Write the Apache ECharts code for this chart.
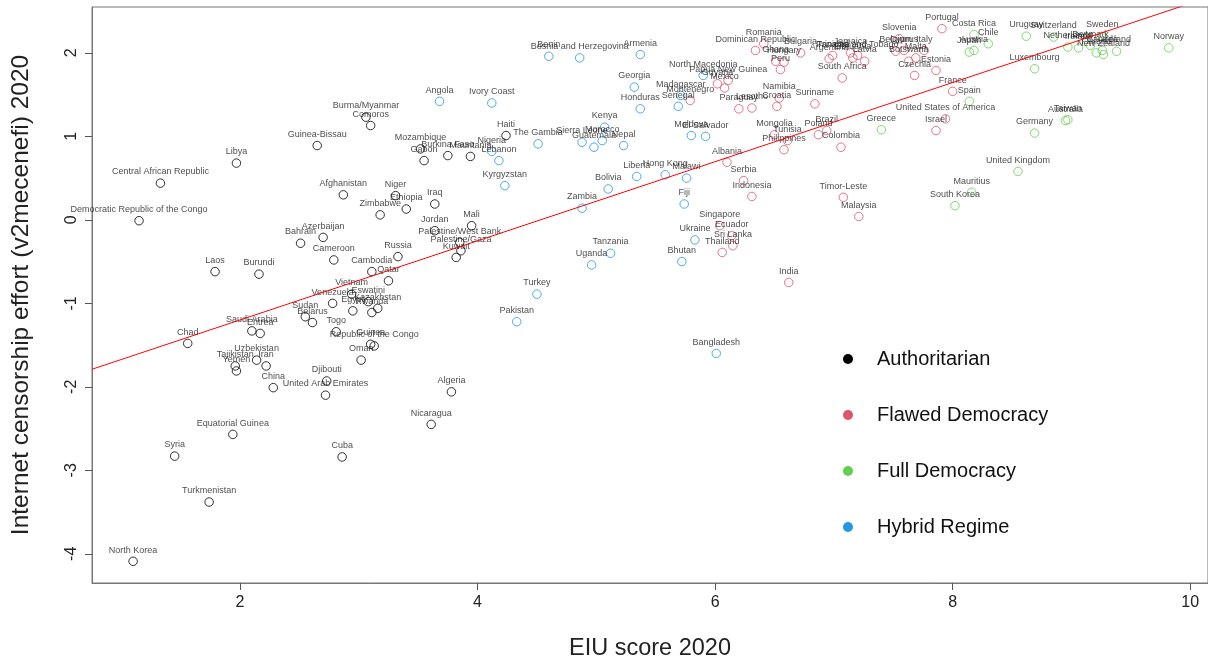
<!DOCTYPE html>
<html><head><meta charset="utf-8">
<script src="https://cdn.jsdelivr.net/npm/echarts@6/dist/echarts.min.js"></script>
<style>html,body{margin:0;padding:0;background:#fff}#c{width:1208px;height:660px}</style>
</head><body><div id="c"></div>
<script>
const regimes = ['Authoritarian','Flawed Democracy','Full Democracy','Hybrid Regime'];
const regimeColors = ['#000000','#DF536B','#61D04F','#2297E6'];

const authNames = ['North Korea','Democratic Republic of the Congo','Central African Republic','Syria','Chad','Turkmenistan','Laos','Equatorial Guinea','Tajikistan','Yemen','Libya','Saudi Arabia','Eritrea','Uzbekistan','Burundi','Iran','China','Bahrain','Sudan','Belarus','Guinea-Bissau','Azerbaijan','United Arab Emirates','Djibouti','Venezuela','Cameroon','Togo','Cuba','Afghanistan','Vietnam','Egypt','Oman','Burma/Myanmar','Eswatini','Comoros','Guinea','Rwanda','Cambodia','Republic of the Congo','Kazakhstan','Zimbabwe','Qatar','Niger','Russia','Ethiopia','Mozambique','Gabon','Nicaragua','Iraq','Jordan','Burkina Faso','Algeria','Kuwait','Palestine/West Bank','Palestine/Gaza','Mauritania','Mali','Haiti'];
const authEIU = [1.10,1.15,1.33,1.45,1.56,1.74,1.79,1.94,1.96,1.97,1.97,2.10,2.17,2.14,2.16,2.22,2.28,2.51,2.55,2.61,2.65,2.70,2.72,2.73,2.78,2.79,2.81,2.86,2.87,2.94,2.95,3.02,3.06,3.08,3.10,3.10,3.11,3.11,3.13,3.16,3.18,3.25,3.31,3.33,3.40,3.52,3.55,3.61,3.64,3.64,3.75,3.78,3.82,3.85,3.86,3.94,3.95,4.24];
const authCensor = [-4.09,-0.01,0.44,-2.83,-1.48,-3.38,-0.62,-2.57,-1.75,-1.81,0.68,-1.33,-1.36,-1.68,-0.65,-1.75,-2.01,-0.28,-1.16,-1.23,0.89,-0.21,-2.10,-1.93,-1.00,-0.48,-1.34,-2.84,0.30,-0.89,-1.09,-1.68,1.23,-0.98,1.13,-1.49,-1.11,-0.62,-1.51,-1.06,0.06,-0.73,0.29,-0.44,0.13,0.85,0.71,-2.45,0.19,-0.13,0.77,-2.06,-0.45,-0.27,-0.37,0.76,-0.07,1.01];

const flawNames = ['Montenegro','Guyana','Singapore','Thailand','Mexico','Albania','Papua New Guinea','Ecuador','Sri Lanka','Paraguay','Serbia','Lesotho','Indonesia','Dominican Republic','Romania','Mongolia','Ghana','Croatia','Namibia','Peru','Hungary','Philippines','Tunisia','India','Bulgaria','Suriname','Poland','Brazil','Argentina','Panama','Colombia','South Africa','Timor-Leste','Jamaica','Lithuania','Trinidad and Tobago','Malaysia','Latvia','Belgium','Slovenia','Cyprus','Botswana','Czechia','Malta','Italy','Estonia','Israel','Portugal','United States of America','France'];
const flawEIU = [5.79,6.02,6.04,6.06,6.08,6.10,6.11,6.14,6.15,6.20,6.24,6.31,6.31,6.34,6.41,6.50,6.51,6.52,6.54,6.55,6.58,6.58,6.61,6.62,6.72,6.84,6.87,6.94,6.96,6.99,7.06,7.07,7.08,7.14,7.16,7.20,7.21,7.26,7.52,7.55,7.59,7.63,7.68,7.69,7.76,7.86,7.86,7.91,7.94,8.00];
const flawCensor = [1.43,1.63,-0.07,-0.39,1.58,0.69,1.67,-0.19,-0.31,1.33,0.47,1.34,0.28,2.03,2.11,1.02,1.90,1.36,1.46,1.80,1.89,0.84,0.95,-0.75,2.00,1.39,1.02,1.07,1.93,1.97,0.87,1.70,0.27,2.00,1.94,1.97,0.04,1.90,2.02,2.17,2.03,1.90,1.73,1.94,2.03,1.79,1.07,2.29,1.21,1.54];

const fullNames = ['Greece','South Korea','Japan','Spain','Mauritius','Costa Rica','Austria','Chile','United Kingdom','Uruguay','Germany','Luxembourg','Switzerland','Australia','Taiwan','Netherlands','Ireland','Denmark','Finland','Canada','Sweden','New Zealand','Iceland','Norway'];
const fullEIU = [7.40,8.02,8.14,8.14,8.16,8.18,8.18,8.30,8.55,8.62,8.69,8.69,8.85,8.95,8.97,8.97,9.06,9.16,9.21,9.26,9.26,9.27,9.38,9.82];
const fullCensor = [1.08,0.17,2.01,1.42,0.33,2.22,2.03,2.11,0.58,2.20,1.04,1.81,2.19,1.19,1.20,2.07,2.06,2.09,2.00,2.03,2.20,1.98,2.02,2.06];

const hybNames = ['Angola','Ivory Coast','Nigeria','Lebanon','Kyrgyzstan','Pakistan','Turkey','The Gambia','Benin','Bosnia and Herzegovina','Sierra Leone','Zambia','Uganda','Guatemala','Morocco','Kenya','Bolivia','Tanzania','Nepal','Georgia','Liberia','Armenia','Honduras','Hong Kong','Senegal','Madagascar','Bhutan','Fiji','Malawi','Moldova','Ukraine','North Macedonia','El Salvador','Bangladesh'];
const hybEIU = [3.68,4.12,4.12,4.18,4.23,4.33,4.50,4.51,4.60,4.86,4.88,4.88,4.96,4.98,5.05,5.07,5.10,5.12,5.23,5.32,5.34,5.37,5.37,5.58,5.69,5.71,5.72,5.74,5.76,5.80,5.83,5.90,5.92,6.01];
const hybCensor = [1.42,1.40,0.82,0.71,0.41,-1.22,-0.89,0.91,1.96,1.94,0.93,0.14,-0.54,0.87,0.95,1.11,0.37,-0.40,0.89,1.59,0.52,1.98,1.33,0.54,1.36,1.49,-0.50,0.19,0.50,1.01,-0.24,1.73,1.00,-1.60];

const xTicks = [2,4,6,8,10];
const yTicks = [-4,-3,-2,-1,0,1,2];
const fitIntercept = -2.147, fitSlope = 0.474;

const xMin = 0.754, xMax = 10.15, yMin = -4.35, yMax = 2.55;
const FONT = 'Liberation Sans, Arial, sans-serif';

function build(names, xs, ys) {
  return names.map((n, i) => ({ name: n, value: [xs[i], ys[i]] }));
}
const groups = [
  build(authNames, authEIU, authCensor),
  build(flawNames, flawEIU, flawCensor),
  build(fullNames, fullEIU, fullCensor),
  build(hybNames, hybEIU, hybCensor)
];

const series = regimes.map((r, k) => ({
  name: r, type: 'scatter', data: groups[k],
  symbol: 'circle', symbolSize: 8.5,
  itemStyle: { color: 'rgba(0,0,0,0)', borderColor: regimeColors[k], borderWidth: 1 },
  label: { show: true, position: 'top', distance: 2, formatter: '{b}', fontSize: 9, color: '#1a1a1a', fontFamily: FONT },
  emphasis: { disabled: true },
  z: 3
}));
series.push({
  name: 'fit', type: 'line', silent: true, symbol: 'none',
  data: [[xMin, fitIntercept + fitSlope * xMin], [xMax, fitIntercept + fitSlope * xMax]],
  lineStyle: { color: '#FF0000', width: 1 }, z: 4
});

const chart = echarts.init(document.getElementById('c'), null, { renderer: 'canvas' });
chart.setOption({
  animation: false,
  backgroundColor: '#fff',
  grid: { left: 92, right: 0, top: 7, bottom: 77, show: true, borderColor: '#777', borderWidth: 1,
          containLabel: false, outerBoundsMode: 'none' },
  xAxis: {
    type: 'value', min: xMin, max: xMax,
    name: 'EIU score 2020', nameLocation: 'middle', nameGap: 54,
    nameTextStyle: { fontSize: 23.5, color: '#222', fontFamily: FONT },
    axisLine: { show: true, onZero: false, lineStyle: { color: '#777' } },
    axisTick: { show: true, length: 7, customValues: xTicks, lineStyle: { color: '#555' } },
    axisLabel: { customValues: xTicks, fontSize: 16, color: '#222', margin: 12, fontFamily: FONT },
    splitLine: { show: false }
  },
  yAxis: {
    type: 'value', min: yMin, max: yMax,
    name: 'Internet censorship effort (v2mecenefi) 2020', nameLocation: 'middle', nameGap: 58,
    nameTextStyle: { fontSize: 24.5, color: '#222', fontFamily: FONT },
    axisLine: { show: true, onZero: false, lineStyle: { color: '#777' } },
    axisTick: { show: true, length: 7, customValues: yTicks, lineStyle: { color: '#555' } },
    axisLabel: { customValues: yTicks, fontSize: 16, color: '#222', margin: 12, rotate: 90, fontFamily: FONT },
    splitLine: { show: false }
  },
  legend: {
    orient: 'vertical', left: 838, top: 343, itemGap: 34,
    itemWidth: 10, itemHeight: 10, icon: 'circle',
    data: regimes.map((r, k) => ({ name: r, itemStyle: { color: regimeColors[k], borderWidth: 0, opacity: 1 } })),
    textStyle: { fontSize: 20, color: '#111', lineHeight: 22, padding: [0, 0, 0, 19], fontFamily: FONT },
    selectedMode: false
  },
  series: series
});
</script></body></html>
